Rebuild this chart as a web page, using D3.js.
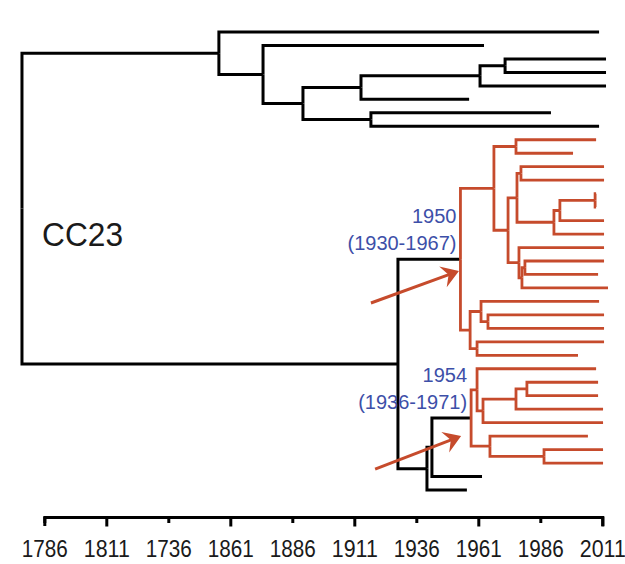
<!DOCTYPE html>
<html><head><meta charset="utf-8">
<script src="https://cdn.jsdelivr.net/npm/d3@7"></script>
<style>body{margin:0;background:#fff}svg{display:block}</style>
</head><body>
<svg id="chart" width="625" height="564"></svg>
<script>
// ---- data ----
const axisYears  = [1786, 1811, 1836, 1861, 1886, 1911, 1936, 1961, 1986, 2011];
const axisLabels = ["1786", "1811", "1736", "1861", "1886", "1911", "1936", "1961", "1986", "2011"];
const cladeLabel = "CC23";
const annotations = [
  { node: "R1", estimate: "1950", interval: "(1930-1967)" },
  { node: "R2", estimate: "1954", interval: "(1936-1971)" }
];
// node dates (years); leaves are sampled tips
const tree = { t: 1777, c: [
  { t: 1856.4, c: [
    { t: 2009.7 },
    { t: 1874.2, c: [
      { t: 1963.3 },
      { t: 1890.3, c: [
        { t: 1913.7, c: [
          { t: 1961.7, c: [
            { t: 1971.8, c: [{ t: 2012.5 }, { t: 2012.5 }] },
            { t: 2012.5 }
          ]},
          { t: 1957.3 }
        ]},
        { t: 1917.7, c: [{ t: 1990.3 }, { t: 2009.7 }] }
      ]}
    ]}
  ]},
  { t: 1928.6, c: [
    { t: 1953.8, id: "R1", red: true, c: [
      { t: 1967.3, c: [
        { t: 1976.2, c: [{ t: 2008.5 }, { t: 1999.2 }] },
        { t: 1973.0, c: [
          { t: 1976.6, c: [
            { t: 1978.2, c: [{ t: 2011.7 }, { t: 2011.7 }] },
            { t: 1991.5, c: [
              { t: 1993.9, c: [
                { t: 2008.1, c: [{ t: 2008.5 }, { t: 2008.5 }] },
                { t: 2011.7 }
              ]},
              { t: 2011.7 }
            ]}
          ]},
          { t: 1977.4, c: [
            { t: 2011.7 },
            { t: 1978.6, c: [
              { t: 1979.8, c: [{ t: 2011.7 }, { t: 2009.3 }] },
              { t: 2013.3 }
            ]}
          ]}
        ]}
      ]},
      { t: 1957.7, c: [
        { t: 1962.1, c: [
          { t: 2009.7 },
          { t: 1964.9, c: [{ t: 2011.7 }, { t: 2011.7 }] }
        ]},
        { t: 1960.5, c: [{ t: 2011.7 }, { t: 2001.2 }] }
      ]}
    ]},
    { t: 1940.3, c: [
      { t: 1942.3, c: [
        { t: 1958.1, id: "R2", red: true, c: [
          { t: 1960.5, c: [
            { t: 2008.5 },
            { t: 1962.9, c: [
              { t: 1976.2, c: [
                { t: 1980.6, c: [{ t: 2009.3 }, { t: 2009.3 }] },
                { t: 2011.3 }
              ]},
              { t: 2011.3 }
            ]}
          ]},
          { t: 1965.7, c: [
            { t: 2005.2 },
            { t: 1987.5, c: [{ t: 2011.3 }, { t: 2011.3 }] }
          ]}
        ]},
        { t: 1962.5 }
      ]},
      { t: 1956.4 }
    ]}
  ]}
]};

// ---- layout / style ----
const BLACK = "#000", RED = "#c64b2c", BLUE = "#3d4fa8";
const FONT = "'Liberation Sans', Arial, Helvetica, sans-serif";
const arrowLayout = {
  R1: { tail: [-89.5, 43.8], tip: [-1.5, 11.8] },
  R2: { tail: [-96, 51.1],  tip: [-10, 18.1] }
};

const svg = d3.select("#chart");
const x = d3.scaleLinear().domain([1786, 2011]).range([44.3, 602.3]);

const root = d3.hierarchy(tree, d => d.c);
const leaves = root.leaves();
const yLeaf = d3.scaleLinear().domain([0, leaves.length - 1]).range([32, 490]);
leaves.forEach((l, i) => { l.py = yLeaf(i); });
root.eachAfter(n => {
  n.px = x(n.data.t);
  if (n.children) n.py = (n.children[0].py + n.children[n.children.length - 1].py) / 2;
});

const inRed = n => n.ancestors().some(a => a.data.red);

// links: vertical at parent, horizontal to child
svg.append("g").selectAll("path")
  .data(root.links())
  .join("path")
  .attr("d", l => `M${l.source.px},${l.source.py}V${l.target.py}H${l.target.px}`)
  .attr("fill", "none")
  .attr("stroke", l => inRed(l.source) ? RED : BLACK)
  .attr("stroke-width", l => inRed(l.source) ? 2.8 : 3)
  .attr("stroke-linejoin", "miter")
  .attr("stroke-linecap", "butt");

// clade label
svg.append("text")
  .attr("x", 42).attr("y", 246)
  .attr("font-family", FONT).attr("font-size", 33)
  .attr("textLength", 81).attr("lengthAdjust", "spacingAndGlyphs")
  .attr("fill", "#1a1a1a")
  .text(cladeLabel);

// annotations
const byId = {};
root.each(n => { if (n.data.id) byId[n.data.id] = n; });
annotations.forEach(a => {
  const n = byId[a.node];
  const g = svg.append("g");
  g.append("text").attr("x", n.px - 4).attr("y", n.py - 36)
    .attr("text-anchor", "end").attr("font-family", FONT).attr("font-size", 20)
    .attr("fill", BLUE).text(a.estimate);
  g.append("text").attr("x", n.px - 4).attr("y", n.py - 9)
    .attr("text-anchor", "end").attr("font-family", FONT).attr("font-size", 20)
    .attr("fill", BLUE).text(a.interval);
  const L = arrowLayout[a.node];
  const tx = n.px + L.tip[0], ty = n.py + L.tip[1];
  const sx = n.px + L.tail[0], sy = n.py + L.tail[1];
  const ang = Math.atan2(ty - sy, tx - sx);
  const len = Math.hypot(tx - sx, ty - sy);
  const ag = svg.append("g").attr("transform", `translate(${sx},${sy}) rotate(${ang * 180 / Math.PI})`);
  ag.append("line").attr("x1", 0).attr("y1", 0).attr("x2", len - 10).attr("y2", 0)
    .attr("stroke", RED).attr("stroke-width", 3);
  ag.append("path")
    .attr("d", `M${len},0L${len - 17},-11L${len - 11},0L${len - 17},11Z`)
    .attr("fill", RED);
});

// time axis
const axis = d3.axisBottom(x)
  .tickValues(axisYears)
  .tickFormat((d, i) => axisLabels[i])
  .tickSizeOuter(0)
  .tickSize(9);
const ag = svg.append("g").attr("transform", "translate(0,517)").call(axis);
ag.select(".domain").attr("stroke", BLACK).attr("stroke-width", 3);
ag.selectAll(".tick line").attr("stroke", BLACK).attr("stroke-width", 3)
  .attr("y2", (d, i) => i % 2 ? 9.5 : 6);
ag.selectAll(".tick text")
  .attr("y", 40).attr("dy", null)
  .attr("fill", "#1a1a1a")
  .attr("font-family", FONT).attr("font-size", 23)
  .attr("textLength", 46).attr("lengthAdjust", "spacingAndGlyphs");
</script>
</body></html>
